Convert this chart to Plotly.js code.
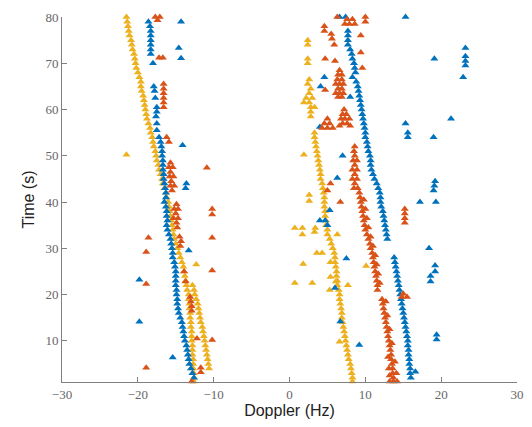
<!DOCTYPE html>
<html><head><meta charset="utf-8">
<script src="https://cdn.plot.ly/plotly-3.0.1.min.js"></script>
<style>html,body{margin:0;padding:0;background:#fff;}#chart{width:532px;height:427px;}</style>
</head><body><div id="chart"></div>
<script>
// Each point: [time (s), doppler (Hz)]
const yellowLeftMain = [[80,-21.5],[79,-21.4],[78,-21.3],[77,-21.2],[76,-21.1],[75,-20.9],[74,-20.8],[73,-20.7],[72,-20.5],[71,-20.4],[70,-20.3],[69,-20.2],[68,-20.0],[67,-19.8],[66,-19.6],[65,-19.6],[64,-19.5],[63,-19.3],[62,-19.2],[61,-19.1],[60,-19.0],[59,-18.9],[58,-18.8],[57,-18.6],[56,-18.4],[55,-18.3],[54,-18.1],[53,-18.0],[52,-17.9],[51,-17.7],[50,-17.6],[49,-17.5],[48,-17.3],[47,-17.2],[46,-17.0],[45,-16.8],[44,-16.7],[43,-16.5],[42,-16.3],[41,-16.2],[40,-16.0],[39,-15.9],[38,-15.8],[37,-15.7],[36,-15.6],[35,-15.5],[34,-15.4],[33,-15.3],[32,-15.2],[31,-15.0],[30,-14.8],[29,-14.6],[28,-14.4],[27,-14.2],[26,-14.0],[25,-13.9],[24,-13.8],[23,-13.7],[22,-13.6],[21,-13.5],[20,-13.3]];
const yellowLeftInner = [[19,-13.3],[18,-13.2],[17,-13.2],[16,-13.1],[15,-13.1],[14,-13.0],[13,-13.0],[12,-12.9],[11,-12.9],[10,-12.9],[9,-12.8],[8,-12.8],[7,-12.8],[6,-12.7],[5,-12.7],[4,-12.7],[3,-12.6],[2,-12.6],[1.2,-12.6]];
const yellowLeftOuter = [[22,-12.8],[21,-12.6],[20,-12.5],[19,-12.3],[18,-12.1],[17,-12.0],[16,-11.9],[15,-11.8],[14,-11.7],[13,-11.5],[12,-11.4],[11,-11.3],[10,-11.2],[9,-11.1],[8,-11.0],[7,-10.9],[6,-10.8],[5,-10.7],[4,-10.6]];
const yellowLeftExtra = [[50.2,-21.5],[26.5,-12.3]];
const yellowRightTop = [[75,2.4],[74,2.4],[71,2.4],[70,2.4],[66.5,2.6],[65.5,2.4],[64.5,2.8],[63.5,2.6],[62.5,2.2],[62.5,3.0],[61.5,1.9],[61.5,2.6],[60.5,2.8],[60.5,3.3],[59.5,2.8],[58.5,2.8]];
const yellowRightMain = [[55,3.3],[54,3.3],[53,3.4],[52,3.5],[51,3.6],[50,3.7],[49,3.8],[48,3.9],[47,4.0],[46,4.1],[45,4.1],[44,4.3],[43,4.4],[42,4.5],[41,4.6],[40,4.6],[39,4.6],[38,4.7],[37,4.7],[36,4.8],[35,4.8],[34,5.0],[33,5.0],[32,5.3],[31,5.5],[30,5.7],[29,5.9],[28,6.0],[27,6.0],[26,6.1],[25,6.2],[24,6.2],[23,6.3],[22,6.3],[21,6.5],[20,6.6],[19,6.6],[18,6.7],[17,6.8],[16,6.9],[15,6.9],[14,7.0],[13,7.1],[12,7.2],[11,7.3],[10,7.4],[9,7.5],[8,7.6],[7,7.7],[6,7.8],[5,8.0],[4,8.1],[3,8.2],[2,8.3],[1.2,8.3]];
const yellowRightExtra = [[50.2,1.9],[41.5,2.6],[40.2,2.6],[34.4,0.7],[34.4,1.7],[33,1.7],[34.4,3.4],[33.5,3.3],[29,3.6],[29,4.3],[26.6,1.8],[27,5.4],[22.5,0.7],[22.5,3.0],[21,5.3],[23.8,5.4],[22.8,6.1],[22,7.7],[33,6.3],[9.8,6.6],[26.2,10.1]];

const blueLeftTop = [[79,-18.6],[78,-18.4],[77,-18.3],[76,-18.3],[75,-18.3],[74,-18.3],[73,-18.3],[72,-18.3],[70,-18.0],[65,-17.9],[64,-17.8],[62.5,-17.7],[60.5,-17.5],[59.5,-17.5],[58.5,-17.6],[57,-17.5],[55.5,-17.5]];
const blueLeftMain = [[54,-17.2],[53,-17.0],[52,-16.9],[51,-16.8],[50,-16.8],[49,-16.7],[48,-16.7],[47,-16.7],[46,-16.6],[45,-16.6],[44,-16.5],[43,-16.4],[42,-16.3],[41,-16.3],[40,-16.5],[39,-16.3],[38,-16.2],[37,-16.2],[36,-16.1],[35,-16.2],[34,-16.1],[33,-15.9],[32,-15.7],[31,-15.6],[30,-15.5],[29,-15.4],[28,-15.4],[27,-15.2],[26,-15.1],[25,-15.0],[24,-15.0],[23,-15.0],[22,-15.0],[21,-14.9],[20,-14.9],[19,-14.8],[18,-14.8],[17,-14.7],[16,-14.6],[15,-14.4],[14,-14.2],[13,-14.1],[12,-14.0],[11,-13.9],[10,-13.8],[9,-13.6],[8,-13.5],[7,-13.4],[6,-13.3],[5,-13.2],[4,-13.0],[3,-12.8],[2,-12.6]];
const blueLeftExtra = [[79,-14.3],[73.3,-14.6],[71.1,-14.3],[52.3,-14.1],[44,-13.6],[43,-13.7],[29.5,-13.3],[23.2,-19.8],[14.1,-19.8],[6.4,-15.4]];
const blueRightMain = [[80,6.6],[80,7.4],[77,7.7],[76,7.7],[75,7.7],[74,7.7],[73,8.0],[72,8.2],[71,8.3],[70,8.5],[69,8.6],[68,8.7],[67,8.3],[66,8.8],[65,9.0],[64,9.1],[63,9.2],[62.7,8.0],[62,9.3],[61,9.4],[60,9.5],[59,9.6],[58,9.7],[57,9.8],[56,9.9],[55,10.0],[54,10.0],[53,10.2],[52,10.3],[51,10.4],[50,10.6],[49,10.7],[48,10.7],[47,10.8],[46,11.0],[45,11.2],[44,11.5],[43,11.7],[42,11.9],[41,12.0],[40,12.0],[39,12.1],[38,12.3],[37,12.4],[36,12.5],[35,12.6],[34,12.7],[33,12.8],[32,12.9]];
const blueRightLower = [[28,13.8],[27,13.9],[26,14.0],[25,14.1],[24,14.2],[23,14.3],[22,14.4],[21,14.5],[20,14.6],[19,14.7],[18,14.8],[17,14.9],[16,15.0],[15,15.1],[14,15.2],[13,15.3],[12,15.4],[11,15.5],[10,15.6],[9,15.6],[8,15.7],[7,15.7],[6,15.8],[5,15.8],[4,15.9],[3,15.9],[2,16.0]];
const blueRightExtra = [[80,15.3],[73.3,23.2],[71.5,23.2],[70.5,23.2],[69.5,23.2],[67,22.9],[71,19.1],[58,21.3],[57,15.3],[55,15.6],[54,15.6],[54,19.0],[44.5,19.2],[43.5,19.1],[42.5,19.0],[40,19.3],[40,17.2],[30,18.4],[26.3,19.2],[25,19.2],[24,18.6],[22.8,18.6],[11.3,19.4],[10.3,19.4],[3.3,16.6],[67,4.6],[65,4.1],[56.2,4.0],[50,7.0],[45.2,6.3],[38.2,5.3],[36,4.0],[36,4.7],[35,5.0],[27.8,7.5],[21.4,6.0],[14.2,6.7],[9.1,9.2]];

const orangeLeft = [[80,-17.7],[80,-17.1],[79.3,-17.4],[71.2,-17.2],[71.2,-16.7],[65.5,-16.6],[64.5,-16.6],[63.5,-16.6],[62.5,-16.6],[61.5,-16.6],[60.5,-16.6],[54,-16.2],[53,-15.9],[48.5,-15.7],[47.5,-15.9],[47.5,-15.4],[46.5,-15.7],[45.5,-15.8],[45.5,-15.3],[44.5,-15.6],[43.5,-15.7],[43.5,-15.2],[42.5,-15.5],[39.5,-14.9],[38.5,-15.2],[38.5,-14.7],[37.5,-15.0],[36.5,-15.3],[36.5,-14.7],[35.5,-14.9],[34.5,-14.8],[32.5,-14.5],[31.5,-14.3],[30.5,-14.4],[25,-13.9],[22.8,-13.7],[19.5,-13.1],[18.5,-13.0],[17.5,-12.9],[16.5,-12.9],[10.5,-12.2],[4.2,-11.7],[3.2,-11.7],[1.2,-12.9]];
const orangeLeftExtra = [[47.4,-10.9],[38.5,-10.2],[37.3,-10.2],[32.3,-10.2],[25.2,-10.2],[10.2,-10.2],[32.3,-18.6],[29.2,-18.9],[22.3,-18.9],[4.2,-18.9]];
const orangeRightUpper = [[80,6.3],[79.5,7.6],[79.5,8.3],[78.5,7.3],[78.5,7.9],[78.5,8.6],[80,10.0],[79,10.0],[78,4.6],[77,4.6],[76.3,5.5],[75.3,5.6],[74,5.9],[76,9.4],[72.3,9.4],[69,9.6],[71,4.7],[70.5,6.0],[68.5,6.6],[67.5,6.4],[67.5,6.9],[66.5,6.3],[66.5,6.9],[65.5,6.1],[65.5,6.6],[65.5,7.1],[64.5,6.4],[64.5,6.9],[63.5,6.1],[63.5,6.6],[63.5,7.1],[62.7,6.4],[62.7,6.9],[64.2,4.7],[60,7.2],[59,7.0],[59,7.5],[58,6.8],[58,7.3],[58,7.9],[57,7.0],[57,7.6],[56.5,6.6],[56.5,8.0],[58,5.0],[57,4.6],[57,5.3],[56,4.3],[56,5.0],[56,5.7],[52,8.6],[51,8.5],[50,8.6],[49,8.4],[49,8.9],[48,8.6],[47,8.3],[47,8.9],[46,8.6],[45,8.3],[45,8.9],[44,8.6],[43,8.5],[43,9.0],[44,5.4],[42.5,5.0],[40,6.7]];
const orangeRightMain = [[42,9.2],[41,9.3],[40,9.4],[39,9.5],[38,9.6],[37,9.7],[36,9.8],[35,9.9],[34,10.0],[33,10.2],[32,10.4],[31,10.6],[30,10.7],[29,10.9],[28,11.0],[27,11.1],[26,11.2],[25,11.3],[24,11.4],[23,11.5],[22,11.6],[21,11.6],[40.5,9.8],[38.5,10.0],[36.5,10.2],[34.5,10.4],[32.5,10.7],[30.5,11.0],[28.5,11.3],[26.5,11.5],[24.5,11.7],[22.5,11.9]];
const orangeRightLower = [[19,12.2],[18,12.3],[17,12.4],[16,12.5],[15,12.6],[14,12.7],[13,12.8],[12,12.9],[11,13.0],[10,13.1],[9,13.2],[8,13.3],[7,13.4],[6,13.4],[5,13.5],[4,13.6],[3,13.6],[2,13.7],[1.2,13.7],[18.5,12.7],[15.5,12.9],[12.5,13.2],[9.5,13.5],[6.5,13.0],[5.5,13.9],[4,13.1],[3,14.1],[2.5,13.2],[1.2,13.2],[1.2,14.2]];
const orangeRightExtra = [[38.5,15.2],[37.5,15.2],[36.5,15.2],[35.5,15.2],[20.2,15.0],[19.5,14.8],[19.5,15.5]];

const xTicks = [-30,-20,-10,0,10,20,30];
const yTicks = [10,20,30,40,50,60,70,80];

const colors = {yellow:'#EDB120', blue:'#0072BD', orange:'#D95319'};
function mk(groups, color){
  const pts = [].concat(...groups);
  return {type:'scatter', mode:'markers', x: pts.map(p=>p[1]), y: pts.map(p=>p[0]), cliponaxis:false,
    marker:{symbol:'triangle-up', size:7, color:color, line:{width:0}}, hoverinfo:'x+y', showlegend:false};
}
const data = [
  mk([yellowLeftMain, yellowLeftInner, yellowLeftOuter, yellowLeftExtra, yellowRightTop, yellowRightMain, yellowRightExtra], colors.yellow),
  mk([blueLeftTop, blueLeftMain, blueLeftExtra, blueRightMain, blueRightLower, blueRightExtra], colors.blue),
  mk([orangeLeft, orangeLeftExtra, orangeRightUpper, orangeRightMain, orangeRightLower, orangeRightExtra], colors.orange)
];
const axisCommon = {ticks:'inside', ticklen:5, tickcolor:'#808080', tickwidth:1, showline:true, linecolor:'#808080', linewidth:1,
  showgrid:false, zeroline:false, mirror:false, automargin:false,
  tickfont:{family:'Liberation Serif, serif', size:13, color:'#666'}};
const layout = {
  width:532, height:427, paper_bgcolor:'#fff', plot_bgcolor:'#fff',
  margin:{l:62, r:15, t:17, b:45},
  xaxis: Object.assign({}, axisCommon, {range:[-30,30], tickvals:xTicks,
    title:{text:'Doppler (Hz)', font:{family:'Liberation Sans, Arial, sans-serif', size:16, color:'#222'}, standoff:4}}),
  yaxis: Object.assign({}, axisCommon, {range:[1.1,80], tickvals:yTicks,
    title:{text:'Time (s)', font:{family:'Liberation Sans, Arial, sans-serif', size:16, color:'#222'}, standoff:6}}),
  showlegend:false
};
Plotly.newPlot('chart', data, layout, {displayModeBar:false, staticPlot:true});
</script></body></html>
